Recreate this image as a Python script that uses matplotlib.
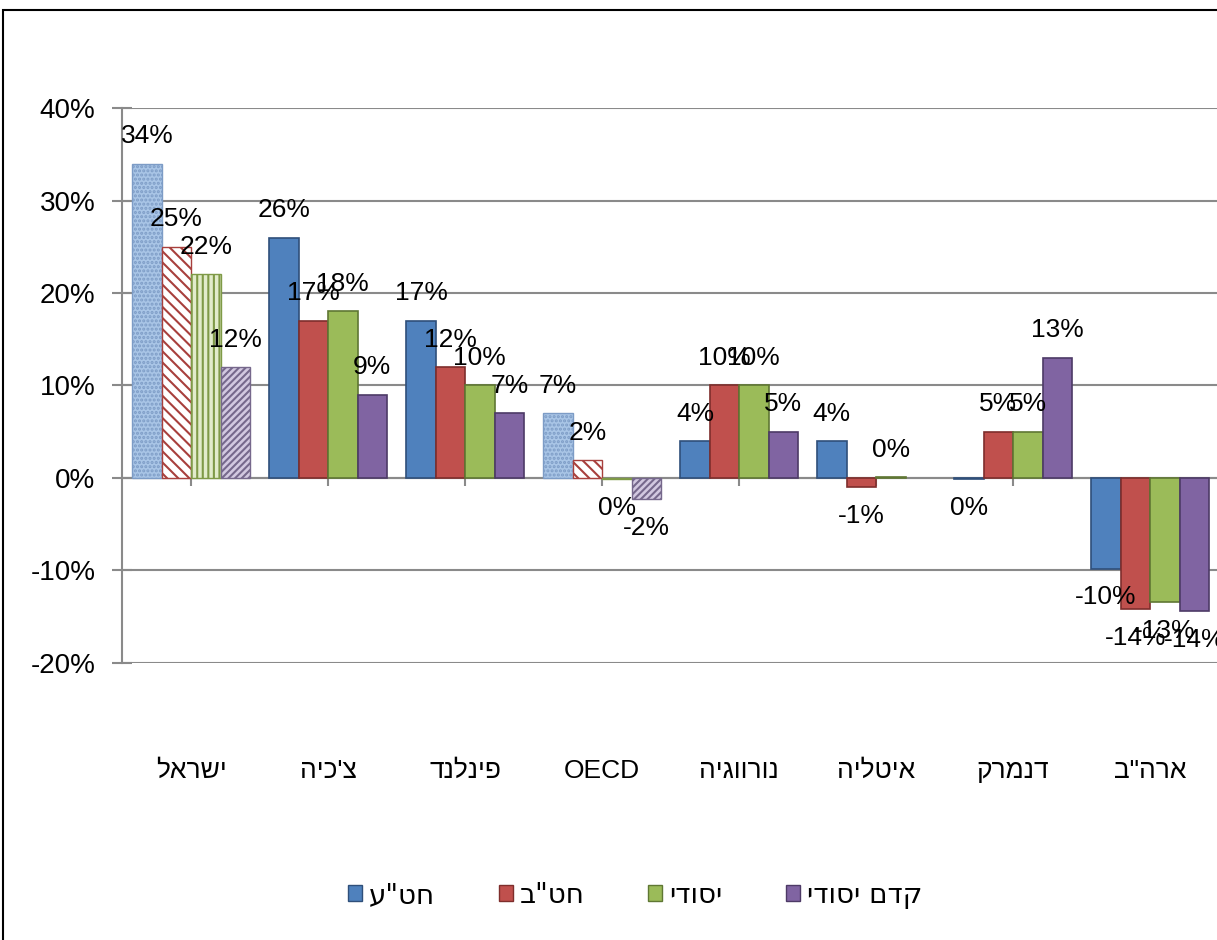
import numpy as np
import matplotlib
matplotlib.use('Agg')
import matplotlib.pyplot as plt
from matplotlib.patches import Patch, Rectangle

plt.rcParams['font.family'] = ['Liberation Sans', 'DejaVu Sans']
plt.rcParams['hatch.linewidth'] = 1.5

# data (percent)
categories = ['ישראל', "צ'כיה", 'פינלנד', 'OECD', 'נורווגיה', 'איטליה', 'דנמרק', 'ארה"ב']
series_names = ['חט"ע', 'חט"ב', 'יסודי', 'קדם יסודי']
high_school = [34, 26, 17, 7, 4, 4, -0.1, -9.8]
junior_high = [25, 17, 12, 1.9, 10, -1, 5, -14.2]
elementary = [22, 18, 10, -0.1, 10, 0.1, 5, -13.4]
preschool = [12, 9, 7, -2.3, 5, np.nan, 13, -14.4]
highlighted = ['ישראל', 'OECD']

colors = ['#4F81BD', '#C0504D', '#9BBB59', '#8064A2']
edges = ['#2F4F7A', '#7E2E2C', '#5F7733', '#4D3A66']
light_face = ['#A9C5E6', '#FFFFFF', '#E2ECCB', '#D2C8E0']
light_edge = ['#7D9CC6', '#A8403D', '#7F9A47', '#76688C']
hatches = ['....', '\\\\\\', '|||', '/////']
hebrew_font = ['DejaVu Sans']


def rtl(s):
    # matplotlib has no bidi support, so reverse Hebrew strings by hand
    return s if s.isascii() else s[::-1]


fig = plt.figure(figsize=(12.17, 9.40), dpi=100)
ax = fig.add_axes([0.1002, 0.2947, 0.9, 0.5904])

x = np.arange(len(categories))
width = 0.215
all_series = [high_school, junior_high, elementary, preschool]

for i, vals in enumerate(all_series):
    pos = x + (i - 1.5) * width
    for j, v in enumerate(vals):
        if np.isnan(v):
            continue
        if categories[j] in highlighted:
            ax.bar(pos[j], v, width, facecolor=light_face[i], edgecolor=light_edge[i],
                   hatch=hatches[i], linewidth=1, zorder=3)
        else:
            ax.bar(pos[j], v, width, color=colors[i], edgecolor=edges[i],
                   linewidth=1.2, zorder=3)
        label = f'{round(v):.0f}%'.replace('-0%', '0%')
        ax.annotate(label, (pos[j], v), xytext=(0, 11 if v >= 0 else -12),
                    textcoords='offset points', ha='center',
                    va='bottom' if v >= 0 else 'top', fontsize=19, zorder=5)

ax.set_xlim(-0.505, 7.49)
ax.set_ylim(-20, 40)
ax.set_yticks(np.arange(-20, 41, 10))
ax.set_yticklabels([f'{t}%' for t in range(-20, 41, 10)])
ax.yaxis.grid(True, color='#8A8A8A', linewidth=1.5, zorder=0)
ax.set_axisbelow(True)

ax.set_xticks(x)
ax.set_xticklabels([rtl(c) for c in categories])
for lbl, c in zip(ax.get_xticklabels(), categories):
    if not c.isascii():
        lbl.set_family(hebrew_font)
ax.spines['bottom'].set_position(('data', 0))
for s in ['top', 'right']:
    ax.spines[s].set_visible(False)
for s in ['left', 'bottom']:
    ax.spines[s].set_color('#8A8A8A')
    ax.spines[s].set_linewidth(1.5)
ax.tick_params(axis='x', length=6, color='#8A8A8A', width=1.5, pad=196, labelsize=19)
ax.tick_params(axis='y', direction='inout', length=14, color='#8A8A8A', width=1.5,
               pad=12, labelsize=20)

handles = [Patch(facecolor=colors[i], edgecolor=edges[i]) for i in range(4)]
fig.legend(handles, [rtl(n) for n in series_names], loc='center',
           bbox_to_anchor=(0.522, 0.048), ncol=4, frameon=False,
           prop={'family': hebrew_font, 'size': 20},
           handlelength=0.5, handleheight=0.5, handletextpad=0.25, columnspacing=2.3)

fig.add_artist(Rectangle((3 / 1217, -0.05), 1.2, 0.05 + 1 - 10 / 940,
                         transform=fig.transFigure, fill=False,
                         edgecolor='black', linewidth=1.5))

fig.savefig('out.png', dpi=100)
